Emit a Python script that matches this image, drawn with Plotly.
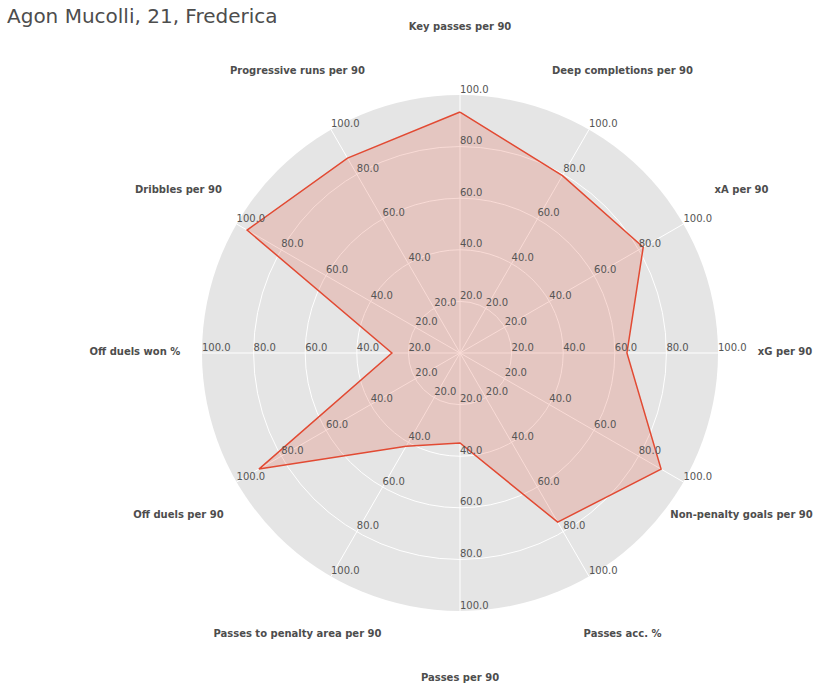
import plotly.graph_objects as go

title_text = "Agon Mucolli, 21, Frederica"
categories = [
    "Key passes per 90", "Deep completions per 90", "xA per 90", "xG per 90",
    "Non-penalty goals per 90", "Passes acc. %", "Passes per 90",
    "Passes to penalty area per 90", "Off duels per 90", "Off duels won %",
    "Dribbles per 90", "Progressive runs per 90",
]
values = [93.4, 79.4, 82.0, 64.7, 90.0, 75.7, 34.9, 41.7, 90.0, 26.4, 95.3, 87.2]
tick_vals = [20, 40, 60, 80, 100]
tick_text = ["20.0", "40.0", "60.0", "80.0", "100.0"]
label_r = 126

W, H = 819, 690
cx, cy, R = 460, 353, 258          # polar centre / radius in pixels
outer_max = 130                    # range of the invisible label subplot
R2 = R * outer_max / 100

red = "#E24A33"
fig = go.Figure()

fig.add_trace(go.Scatterpolar(
    r=values + values[:1], theta=categories + categories[:1],
    mode="lines", fill="toself", fillcolor="rgba(226,74,51,0.2)",
    line=dict(color=red, width=1.5), hoverinfo="skip", showlegend=False,
))

# radial tick labels on every spoke
rr, tt, txt = [], [], []
for c in categories:
    for v, s in zip(tick_vals, tick_text):
        rr.append(v); tt.append(c); txt.append(s)
fig.add_trace(go.Scatterpolar(
    r=rr, theta=tt, text=txt, mode="text", textposition="top right",
    textfont=dict(family="DejaVu Sans", size=10, color="#555555"),
    hoverinfo="skip", showlegend=False, cliponaxis=False,
))

# category labels outside (on an invisible, larger polar subplot)
fig.add_trace(go.Scatterpolar(
    r=[label_r] * len(categories), theta=categories, text=categories,
    mode="text", textposition="middle center", subplot="polar2",
    textfont=dict(family="DejaVu Sans", size=10, color="#4d4d4d", weight="bold"),
    hoverinfo="skip", showlegend=False, cliponaxis=False,
))

angular_common = dict(categoryarray=categories, categoryorder="array",
                      rotation=90, direction="clockwise", showticklabels=False,
                      ticks="", showline=False)

fig.update_layout(
    width=W, height=H,
    margin=dict(l=0, r=0, t=0, b=0),
    paper_bgcolor="white",
    title=dict(text=title_text, x=7 / W, xref="container", xanchor="left",
               y=1 - 16 / H, yref="container", yanchor="middle",
               font=dict(family="DejaVu Sans", size=20, color="#4d4d4d")),
    polar=dict(
        domain=dict(x=[(cx - R) / W, (cx + R) / W],
                    y=[(H - cy - R) / H, (H - cy + R) / H]),
        bgcolor="#E5E5E5",
        radialaxis=dict(range=[0, 100], tickvals=tick_vals, showticklabels=False,
                        ticks="", showline=False, gridcolor="white", gridwidth=1),
        angularaxis=dict(gridcolor="white", gridwidth=1, **angular_common),
    ),
    polar2=dict(
        domain=dict(x=[(cx - R2) / W, (cx + R2) / W],
                    y=[(H - cy - R2) / H, (H - cy + R2) / H]),
        bgcolor="rgba(0,0,0,0)",
        radialaxis=dict(range=[0, outer_max], showticklabels=False, ticks="",
                        showline=False, showgrid=False),
        angularaxis=dict(showgrid=False, **angular_common),
    ),
)

fig.write_html("out.html", config={"displayModeBar": False},
               post_script="document.body.style.margin='0';")
